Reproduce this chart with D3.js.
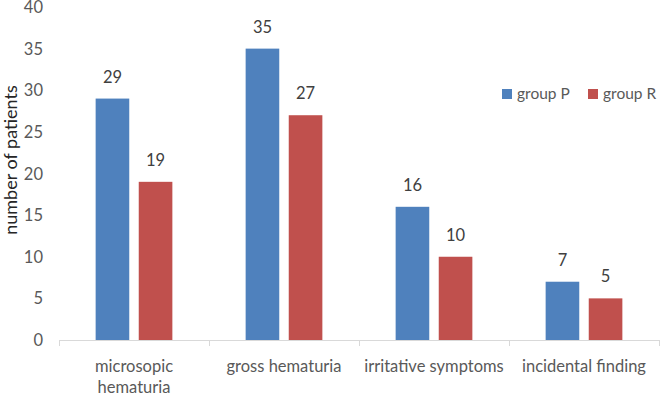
<!DOCTYPE html>
<html>
<head>
<meta charset="utf-8">
<script src="https://cdn.jsdelivr.net/npm/d3@7"></script>
<style>
  body { margin: 0; background: #fff; }
  text { font-family: Lato, "Open Sans", sans-serif; }
</style>
</head>
<body>
<div id="chart"></div>
<script>
// categories and series
var categories = [["microsopic", "hematuria"], ["gross hematuria"], ["irritative symptoms"], ["incidental finding"]];
var groupP = [29, 35, 16, 7];
var groupR = [19, 27, 10, 5];
var seriesNames = ["group P", "group R"];
var yTicks = [0, 5, 10, 15, 20, 25, 30, 35, 40];

var width = 661, height = 397;
var colors = ["#4F81BD", "#C0504D"];

var svg = d3.select("#chart").append("svg")
    .attr("width", width)
    .attr("height", height);

var catIdx = d3.range(categories.length);

// x scale => categories
var x0 = d3.scaleBand().domain(catIdx).range([59, 659]).padding(0);
// inner scale => the two groups
var x1 = d3.scaleBand().domain([0, 1]).range([0, x0.bandwidth()])
    .paddingInner(0.22).paddingOuter(0.85);
// y scale => number of patients
var y = d3.scaleLinear().domain([0, 40]).range([340, 7]);

// y tick labels (no axis line)
svg.append("g").selectAll("text")
   .data(yTicks)
   .enter().append("text")
   .attr("x", 43)
   .attr("y", function(d) { return y(d) + 6; })
   .attr("text-anchor", "end")
   .attr("font-size", 16.5)
   .attr("fill", "#595959")
   .text(function(d) { return d; });

// y title
svg.append("text")
   .attr("transform", "translate(17,160) rotate(-90)")
   .attr("text-anchor", "middle")
   .attr("font-size", 18)
   .attr("fill", "#262626")
   .text("number of patients");

// bars
var series = [groupP, groupR];
series.forEach(function(vals, s) {
    var g = svg.append("g");
    g.selectAll("rect")
     .data(vals)
     .enter().append("rect")
     .attr("x", function(d, i) { return x0(i) + x1(s); })
     .attr("y", function(d) { return y(d); })
     .attr("width", x1.bandwidth())
     .attr("height", function(d) { return y(0) - y(d); })
     .attr("fill", colors[s]);

    g.selectAll("text")
     .data(vals)
     .enter().append("text")
     .attr("x", function(d, i) { return x0(i) + x1(s) + x1.bandwidth() / 2; })
     .attr("y", function(d) { return y(d) - 16; })
     .attr("text-anchor", "middle")
     .attr("font-size", 16.5)
     .attr("fill", "#404040")
     .text(function(d) { return d; });
});

// x axis line and tick marks
var axisG = svg.append("g");
axisG.append("line")
     .attr("x1", x0.range()[0]).attr("x2", x0.range()[1])
     .attr("y1", y(0) + 0.5).attr("y2", y(0) + 0.5)
     .attr("stroke", "#D9D9D9");
axisG.selectAll("line.tick")
     .data(catIdx.concat([categories.length]))
     .enter().append("line")
     .attr("class", "tick")
     .attr("x1", function(i) { return x0.range()[0] + i * x0.step() + 0.5; })
     .attr("x2", function(i) { return x0.range()[0] + i * x0.step() + 0.5; })
     .attr("y1", y(0)).attr("y2", y(0) + 6)
     .attr("stroke", "#D9D9D9");

// category labels
var catLabels = axisG.selectAll("text.cat")
     .data(categories)
     .enter().append("text")
     .attr("class", "cat")
     .attr("text-anchor", "middle")
     .attr("font-size", 16.5)
     .attr("fill", "#595959")
     .attr("transform", function(d, i) { return "translate(" + (x0(i) + x0.bandwidth() / 2) + ",372)"; });
catLabels.selectAll("tspan")
     .data(function(d) { return d; })
     .enter().append("tspan")
     .attr("x", 0)
     .attr("dy", function(d, j) { return j === 0 ? 0 : 21; })
     .text(function(d) { return d; });

// legend
var legendX = [502, 588];
var legend = svg.append("g").selectAll("g")
    .data(seriesNames)
    .enter().append("g")
    .attr("transform", function(d, i) { return "translate(" + legendX[i] + ",89)"; });
legend.append("rect")
    .attr("width", 10).attr("height", 10)
    .attr("fill", function(d, i) { return colors[i]; });
legend.append("text")
    .attr("x", 15).attr("y", 5)
    .attr("dy", "0.35em")
    .attr("font-size", 15.5)
    .attr("fill", "#595959")
    .text(function(d) { return d; });
</script>
</body>
</html>
